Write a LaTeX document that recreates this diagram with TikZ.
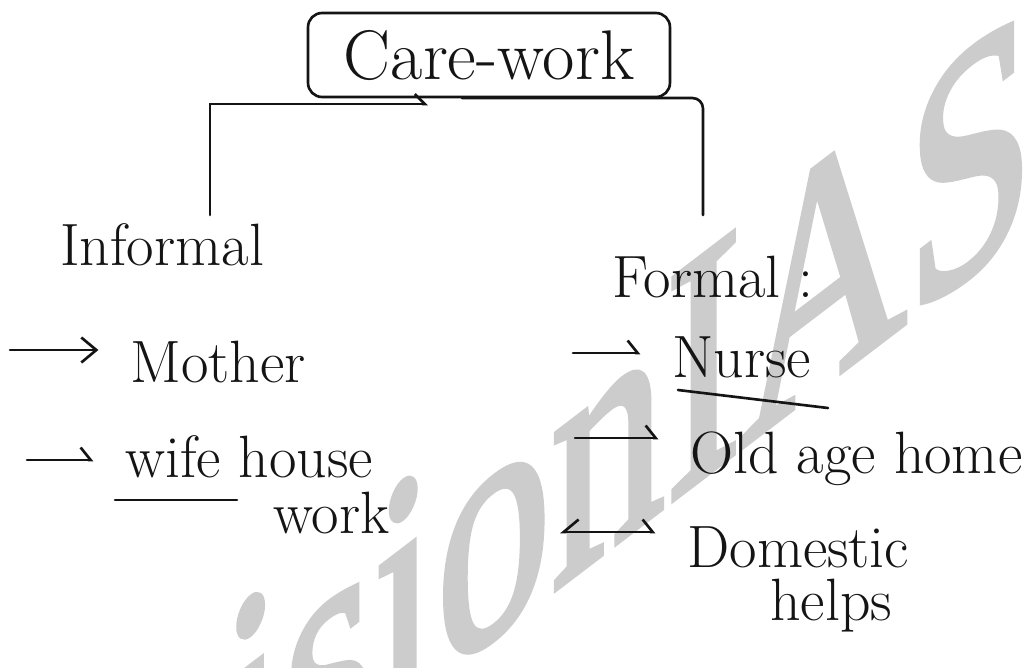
\documentclass[tikz,border=0pt]{standalone}
\usepackage{fontspec}
\usepackage{xcolor}
\usepackage{tikz}
\usetikzlibrary{arrows.meta, positioning}
\newfontfamily\wmfont{Liberation Serif}[FakeBold=2]
\definecolor{ink}{RGB}{20,20,20}
\definecolor{wmark}{RGB}{204,204,204}

\begin{document}
\begin{tikzpicture}[
    x=0.02cm, y=-0.02cm,
    box/.style={rectangle, rounded corners=8pt, draw=ink, line width=1.5pt, minimum width=7.24cm, minimum height=1.68cm, font=\fontsize{40}{44}\selectfont, text=ink},
    txt/.style={anchor=base west, inner sep=0pt, font=\fontsize{34}{40}\selectfont, text=ink},
    line/.style={draw=ink, line width=1.5pt, line cap=round},
    arr/.style={line, -{Straight Barb[length=3mm, width=5mm]}, shorten >=18pt},
    harr/.style={line, -{Straight Barb[harpoon, length=2mm, width=5mm]}, shorten >=18pt},
    darr/.style={line, {Straight Barb[harpoon, swap, length=3mm, width=5mm]}-{Straight Barb[harpoon, length=2mm, width=5mm]}, shorten >=18pt},
    wm/.style={font=\wmfont\fontsize{124}{128}\selectfont, text=wmark},
]
\clip (0,0) rectangle (1027,667);
\fill[white] (0,0) rectangle (1027,667);

% watermark
\begin{scope}[shift={(570,468)}, cm={1.05,0.8,0,1.55,(0,0)}, transform shape]
  \node[wm] (mark) at (0,0) {visionIAS};
\end{scope}

% top box and bracket
\node[box] (care) at (489,55) {Care-work};
\coordinate (kl)  at (210,215);
\coordinate (kh)  at (428,104);
\coordinate (kh2) at (462,98);
\coordinate (kr)  at (703,215);
\draw[line, -{Straight Barb[harpoon, length=2mm, width=4mm]}] (kl) |- (kh);
\draw[line, rounded corners=6pt] (kh2) -| (kr);

% the two branches
\node[txt] (informal) at (60,265)  {Informal};
\node[txt] (formal)   at (612,297) {Formal :};

% informal side
\node[txt] (mother) at (130,382) {Mother};
\node[txt] (wife)   at (125,477) {wife house};
\node[txt] (work)   at (273,533) {work};
\coordinate (m0) at (10,350);
\coordinate (w0) at (27,460);
\draw[arr]  (m0) -- (m0 -| mother.west);
\draw[harr] (w0) -- (w0 -| wife.west);
\draw[line] ([shift={(-10,23)}]wife.base west) -- ++(122,0);

% formal side
\node[txt] (nurse)    at (672,377) {Nurse};
\node[txt] (oldage)   at (690,473) {Old age home};
\node[txt] (domestic) at (687,567) {Domestic};
\node[txt] (helps)    at (770,620) {helps};
\coordinate (n0) at (573,353);
\coordinate (o0) at (575,438);
\coordinate (d0) at (560,532);
\draw[harr] (n0) -- (n0 -| nurse.west);
\draw[harr] (o0) -- (o0 -| oldage.west);
\draw[darr] (d0) -- (d0 -| domestic.west);
\draw[line] ([shift={(6,13)}]nurse.base west) -- ++(150,18);
\end{tikzpicture}
\end{document}
